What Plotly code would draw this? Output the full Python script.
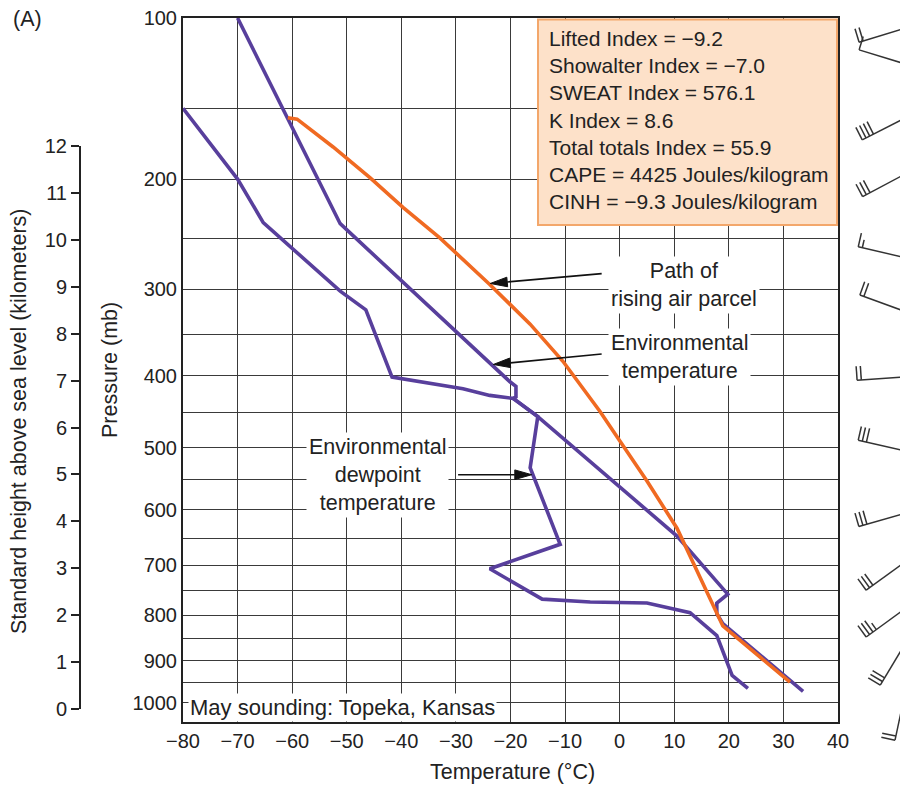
import math
import plotly.graph_objects as go

# ---------------- data ----------------
K = 0.286          # pressure axis is linear in p**0.286
P_TOP, P_BOT = 100, 1048

x_ticks = [-80, -70, -60, -50, -40, -30, -20, -10, 0, 10, 20, 30, 40]
p_grid = list(range(100, 1001, 50))
p_labels = [100, 200, 300, 400, 500, 600, 700, 800, 900, 1000]
height_km = list(range(0, 13))

env_p = [100, 237, 408, 414, 428, 430, 455, 646, 757, 775, 797, 818, 972]
env_t = [-70, -51.2, -20.1, -19.0, -19.0, -19.5, -15.0, 10.5, 19.8, 17.8, 17.8, 18.9, 33.6]

dew_p = [150, 200, 236, 302, 322, 402, 417, 426, 430, 455, 531, 661, 707, 767, 773,
         775, 795, 844, 934, 965]
dew_t = [-80, -70, -65.3, -51.2, -46.5, -41.7, -28.7, -23.8, -19.5, -15.0, -16.4, -10.9,
         -23.8, -14.2, -5.4, 5.0, 12.9, 17.8, 20.6, 23.5]

parcel_p = [156, 157, 176, 199, 223, 250, 295, 338, 382, 448, 491, 552, 632, 725, 797, 823, 950]
parcel_t = [-60.8, -59.1, -52.5, -45.7, -39.7, -32.9, -23.8, -16.4, -10.4, -3.6, 0.1, 5.0,
            10.5, 14.7, 17.8, 18.9, 31.2]

# wind barbs: pressure at barb tip, staff angle (deg), speed (kt)
barb_p = [112, 116, 171, 214, 258, 306, 406, 489, 629, 749, 847, 957, 1095]
barb_ang = [17, -17, 27, 28, -13, -20, 4, -13, 16, 36, 36, 59, 78]
barb_kt = [20, 10, 40, 30, 15, 20, 20, 30, 30, 30, 35, 30, 20]

index_lines = [
    "Lifted Index = \u22129.2",
    "Showalter Index = \u22127.0",
    "SWEAT Index = 576.1",
    "K Index = 8.6",
    "Total totals Index = 55.9",
    "CAPE = 4425 Joules/kilogram",
    "CINH = \u22129.3 Joules/kilogram",
]

# arrows: (tail T, tail p, tip T, tip p)
arrows = [
    (-3.3, 284, -23.7, 294),
    (-3.3, 373, -23.15, 386),
    (-29.6, 542, -16.1, 542),
]

# ---------------- layout geometry ----------------
W, H = 900, 785
PL, PR, PT, PB = 183, 838, 18, 722
PURPLE = "#583f9c"
ORANGE = "#f06a22"
GRID = "#3a3a3a"
INK = "#222222"
FONT = "Liberation Sans, Arial, sans-serif"


def kap(p):
    return p ** K


V_TOP, V_BOT = kap(P_TOP), kap(P_BOT)


def t_to_px(t):
    return PL + (t - x_ticks[0]) / (x_ticks[-1] - x_ticks[0]) * (PR - PL)


def p_to_py(p):
    return PT + (kap(p) - V_TOP) / (V_BOT - V_TOP) * (PB - PT)


def fx(px):
    return px / W


def fy(py):
    return (PB - py) / (PB - PT)


def fmt(v):
    return ("\u2212" + str(abs(v))) if v < 0 else str(v)


fig = go.Figure()
fig.add_trace(go.Scatter(x=dew_t, y=[kap(p) for p in dew_p], mode="lines",
                         line=dict(color=PURPLE, width=3.6), hoverinfo="skip"))
fig.add_trace(go.Scatter(x=env_t, y=[kap(p) for p in env_p], mode="lines",
                         line=dict(color=PURPLE, width=3.6), hoverinfo="skip"))
fig.add_trace(go.Scatter(x=parcel_t, y=[kap(p) for p in parcel_p], mode="lines",
                         line=dict(color=ORANGE, width=3.6), hoverinfo="skip"))
# carrier trace for the height axis
fig.add_trace(go.Scatter(x=[0], y=[height_km[0]], xaxis="x2", yaxis="y2", mode="markers",
                         marker=dict(opacity=0), hoverinfo="skip"))

shapes = []
# index box
shapes.append(dict(type="rect", xref="paper", yref="paper",
                   x0=fx(538), x1=fx(837), y0=fy(225), y1=fy(19.5),
                   fillcolor="#fde1c9", line=dict(color="#f3a76b", width=2), layer="above"))

# arrows
for (t0, p0, t1, p1) in arrows:
    x0, y0 = t_to_px(t0), p_to_py(p0)
    x1, y1 = t_to_px(t1), p_to_py(p1)
    L = math.hypot(x1 - x0, y1 - y0)
    ux, uy = (x1 - x0) / L, (y1 - y0) / L
    hl, hw = 17, 4.8
    bx, by = x1 - ux * hl, y1 - uy * hl
    shapes.append(dict(type="line", xref="paper", yref="paper",
                       x0=fx(x0), y0=fy(y0), x1=fx(bx), y1=fy(by),
                       line=dict(color="#111", width=1.6), layer="above"))
    path = "M {:.5f},{:.5f} L {:.5f},{:.5f} L {:.5f},{:.5f} Z".format(
        fx(x1), fy(y1), fx(bx - uy * hw), fy(by + ux * hw), fx(bx + uy * hw), fy(by - ux * hw))
    shapes.append(dict(type="path", xref="paper", yref="paper", path=path,
                       fillcolor="#111", line=dict(color="#111", width=1), layer="above"))

# wind barbs
STATION_X, STAFF = 905, 48
for p, a, kt in zip(barb_p, barb_ang, barb_kt):
    ar = math.radians(a)
    dx, dy = math.cos(ar), -math.sin(ar)
    tx = STATION_X - STAFF * dx
    ty = p_to_py(p)
    sx, sy = tx + (STAFF + 10) * dx, ty + (STAFF + 10) * dy
    shapes.append(dict(type="line", xref="paper", yref="paper",
                       x0=fx(tx), y0=fy(ty), x1=fx(sx), y1=fy(sy),
                       line=dict(color="#333", width=1.5), layer="above"))
    nx, ny = dy, -dx   # perpendicular, pointing up
    full, half = kt // 10, (kt % 10) // 5
    feathers = [14] * full + [8] * half
    for i, fl in enumerate(feathers):
        bx0, by0 = tx + dx * 4.2 * i, ty + dy * 4.2 * i
        shapes.append(dict(type="line", xref="paper", yref="paper",
                           x0=fx(bx0), y0=fy(by0), x1=fx(bx0 + nx * fl), y1=fy(by0 + ny * fl),
                           line=dict(color="#333", width=1.5), layer="above"))

ann = []
for i, line in enumerate(index_lines):
    ann.append(dict(text=line, xref="paper", yref="paper", x=fx(547), y=fy(38.5 + i * 27.2),
                    xanchor="left", yanchor="middle", showarrow=False,
                    font=dict(family=FONT, size=21, color=INK)))

label_style = dict(xref="paper", yref="paper", showarrow=False, bgcolor="white",
                   borderpad=2, font=dict(family=FONT, size=21.5, color=INK), align="center",
                   xanchor="center", yanchor="middle")
ann.append(dict(text="Path of<br>rising air parcel", x=fx(684), y=fy(285), **label_style))
ann.append(dict(text="Environmental<br>temperature", x=fx(679), y=fy(357), **label_style))
ann.append(dict(text="Environmental<br>dewpoint<br>temperature", x=fx(377), y=fy(475), **label_style))
ann.append(dict(text="May sounding: Topeka, Kansas", x=fx(188), y=fy(707), xanchor="left",
                yanchor="middle", xref="paper", yref="paper", showarrow=False, bgcolor="white",
                borderpad=1, font=dict(family=FONT, size=22, color=INK)))

plain = dict(xref="paper", yref="paper", showarrow=False, xanchor="center", yanchor="middle",
             font=dict(family=FONT, size=21.5, color=INK))
ann.append(dict(text="(A)", x=fx(27), y=fy(19), **plain))
ann.append(dict(text="Temperature (\u00b0C)", x=fx(512), y=fy(772), **plain))
ann.append(dict(text="Pressure (mb)", x=fx(110), y=fy(370), textangle=-90, **plain))
ann.append(dict(text="Standard height above sea level (kilometers)", x=fx(19), y=fy(422),
                textangle=-90, **plain))

TICKFONT = dict(family=FONT, size=20, color=INK)
fig.update_layout(
    width=W, height=H,
    margin=dict(l=0, r=0, t=PT, b=H - PB, autoexpand=False),
    paper_bgcolor="white", plot_bgcolor="white",
    showlegend=False,
    xaxis=dict(domain=[fx(PL), fx(PR)], range=[x_ticks[0], x_ticks[-1]],
               tickmode="array", tickvals=x_ticks, ticktext=[fmt(v) for v in x_ticks],
               showgrid=True, gridcolor=GRID, gridwidth=1.2, zeroline=False,
               showline=True, mirror=True, linecolor=INK, linewidth=2, ticks="",
               tickfont=TICKFONT, anchor="y", automargin=False),
    yaxis=dict(range=[V_BOT, V_TOP], tickmode="array",
               tickvals=[kap(p) for p in p_grid],
               ticktext=[str(p) if p in p_labels else "" for p in p_grid],
               showgrid=True, gridcolor=GRID, gridwidth=1.2, zeroline=False,
               showline=True, mirror=True, linecolor=INK, linewidth=2, ticks="",
               tickfont=TICKFONT, anchor="x", automargin=False),
    xaxis2=dict(domain=[0.0, 0.02], anchor="y2", visible=False, range=[-1, 1]),
    yaxis2=dict(domain=[fy(709.3), fy(145.7)], range=[height_km[0], height_km[-1]],
                anchor="free", position=fx(80), side="left",
                tickmode="array", tickvals=height_km, showgrid=False, zeroline=False,
                showline=True, linecolor=INK, linewidth=2, ticks="outside", ticklen=8,
                tickwidth=2, tickcolor=INK, tickfont=TICKFONT, automargin=False),
    shapes=shapes,
    annotations=ann,
)

fig.write_html("out.html")
